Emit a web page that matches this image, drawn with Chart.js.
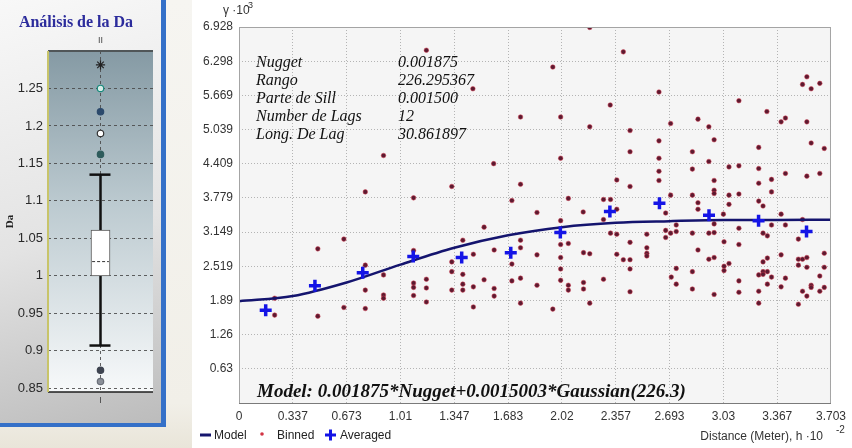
<!DOCTYPE html>
<html lang="es">
<head>
<meta charset="UTF-8">
<title>Análisis de la Da - Semivariograma</title>
<script src="https://cdn.jsdelivr.net/npm/chart.js@4.4.1/dist/chart.umd.min.js"></script>
<style>
  html, body { margin: 0; padding: 0; background: #fff; }
  body { width: 852px; height: 448px; position: relative; overflow: hidden; }
  /* marco del panel izquierdo */
  #leftBg { position: absolute; left: 0; top: 0; width: 192px; height: 448px;
    background: linear-gradient(180deg, #f6f5f1 0%, #f1efe8 90%, #e9e5d9 100%); }
  #leftPanel { position: absolute; left: 0; top: 0; width: 161px; height: 423px;
    background: linear-gradient(165deg, #f8f8f8 0%, #e3e3e3 55%, #bcbcbc 100%);
    border-right: 5px solid #3470c8; border-bottom: 4px solid #3470c8; }
  #boxCanvas { position: absolute; left: 0; top: 0; }
  #vgCanvas { position: absolute; left: 196px; top: 0; }
</style>
</head>
<body>
  <div id="leftBg"></div>
  <div id="leftPanel"></div>
  <canvas id="boxCanvas" width="166" height="423"></canvas>
  <canvas id="vgCanvas" width="656" height="448"></canvas>

<script>
// ---------- datos: diagrama de caja de Da ----------
const daTickLabels = ['0.85', '0.9', '0.95', '1', '1.05', '1.1', '1.15', '1.2', '1.25'];
const daBox = [1.0, 1.061];          // Q1, Q3
const daMedian = 1.019;
const daWhiskers = [0.907, 1.135];   // bigote inferior, superior
const daOutliers = [1.2815, 1.25, 1.219, 1.19, 1.162, 0.874, 0.859];

// ---------- datos: semivariograma ----------
const xTickLabels = ['0', '0.337', '0.673', '1.01', '1.347', '1.683', '2.02', '2.357', '2.693', '3.03', '3.367', '3.703'];
const yTickLabels = ['0', '0.63', '1.26', '1.89', '2.519', '3.149', '3.779', '4.409', '5.039', '5.669', '6.298', '6.928'];

const modelY = [1.875, 1.97, 2.22, 2.55, 2.86, 3.09, 3.24, 3.32, 3.35, 3.37, 3.373, 3.375];

// promedios por lag (cruces azules)
const avgX = [0.167, 0.475, 0.774, 1.09, 1.393, 1.70, 2.01, 2.32, 2.63, 2.94, 3.25, 3.55];
const avgY = [1.71, 2.16, 2.40, 2.70, 2.68, 2.77, 3.14, 3.53, 3.68, 3.46, 3.36, 3.16];

// nube de puntos (binned)
const binX = [
  1.172, 0.904, 0.79, 1.092, 2.194, 2.404, 1.963, 1.463, 2.322, 1.761, 2.012, 2.194, 2.446, 2.446, 1.593,
  2.012, 2.363, 2.446, 1.331, 1.761, 1.707, 2.06, 2.28, 2.324, 2.363, 1.864, 2.153, 3.552, 3.525, 3.633,
  3.579, 2.627, 3.127, 3.302, 2.70, 2.871, 2.939, 3.391, 3.418, 3.552, 2.972, 2.627, 3.579, 3.251, 3.661,
  2.836, 2.627, 2.939, 2.836, 3.065, 3.127, 3.251, 2.627, 3.418, 3.552, 3.633, 2.972, 3.331, 2.627, 3.251,
  2.972, 2.972, 3.331, 2.70, 2.836, 3.065, 3.127, 3.251, 3.278, 2.871, 2.871, 3.065, 2.669, 3.03, 3.391,
  0.223, 0.223, 0.493, 0.493, 0.656, 0.656, 0.79, 0.79, 0.79, 0.904, 0.904, 0.904, 1.092, 1.092, 1.092,
  1.092, 1.172, 1.172, 1.172, 1.331, 1.331, 1.331, 1.40, 1.40, 1.40, 1.40, 1.466, 1.466, 1.466, 1.533,
  1.533, 1.596, 1.596, 1.596, 1.707, 1.707, 1.761, 1.761, 1.761, 1.761, 1.864, 1.864, 1.963, 2.012, 2.012,
  2.012, 2.012, 2.012, 2.06, 2.06, 2.06, 2.155, 2.155, 2.155, 2.194, 2.194, 2.28, 2.28, 2.324, 2.363,
  2.363, 2.404, 2.446, 2.446, 2.446, 2.446,
  2.551, 2.551, 2.551, 2.551, 2.669, 2.669, 2.70, 2.735, 2.735, 2.735, 2.735, 2.704, 2.836, 2.836, 2.836,
  2.871, 2.939, 2.939, 2.972, 2.972, 2.972, 2.972, 3.034, 3.034, 3.034, 3.065, 3.127, 3.127, 3.127, 3.127,
  3.251, 3.251, 3.251, 3.278, 3.305, 3.278, 3.305, 3.278, 3.305, 3.278, 3.331, 3.305, 3.331, 3.418, 3.391,
  3.418, 3.391, 3.525, 3.499, 3.499, 3.525, 3.552, 3.499, 3.552, 3.579, 3.579, 3.525, 3.552, 3.499, 3.661,
  3.661, 3.633, 3.661, 3.633
];
const binY = [
  6.50, 4.56, 3.89, 3.78, 6.92, 6.47, 6.19, 5.79, 5.49, 5.27, 5.27, 5.09, 5.02, 4.63, 4.41,
  4.51, 4.11, 3.99, 3.99, 4.03, 3.73, 3.77, 3.75, 3.75, 3.57, 3.51, 3.52, 6.01, 5.87, 5.89,
  5.79, 5.73, 5.57, 5.37, 5.15, 5.23, 5.09, 5.18, 5.25, 5.18, 4.85, 4.83, 4.79, 4.71, 4.69,
  4.63, 4.51, 4.45, 4.31, 4.35, 4.37, 4.32, 4.27, 4.23, 4.18, 4.23, 4.10, 4.12, 4.10, 4.05,
  3.92, 3.86, 3.89, 3.83, 3.83, 3.83, 3.85, 3.72, 3.63, 3.69, 3.57, 3.66, 3.50, 3.48, 3.48,
  1.93, 1.62, 2.84, 1.60, 3.02, 1.76, 2.54, 2.08, 1.74, 2.36, 1.99, 1.93, 2.81, 2.21, 2.13,
  1.98, 2.28, 2.12, 1.86, 2.60, 2.42, 2.08, 3.00, 2.37, 2.19, 2.08, 2.74, 2.14, 1.77, 3.24,
  2.27, 2.82, 2.11, 1.97, 2.56, 2.25, 3.00, 2.86, 2.30, 1.84, 2.73, 2.17, 1.73, 3.36, 2.92,
  2.68, 2.47, 2.26, 2.94, 2.17, 2.08, 2.77, 2.22, 2.10, 2.75, 1.84, 2.28, 3.38, 3.13, 3.11,
  2.74, 2.64, 2.64, 2.96, 2.47, 2.05,
  3.11, 2.86, 2.76, 2.71, 3.18, 3.05, 3.13, 3.28, 3.16, 2.48, 2.19, 2.32, 3.13, 2.42, 2.10,
  2.82, 3.13, 2.65, 3.30, 3.14, 2.68, 2.00, 2.97, 2.52, 2.44, 2.57, 3.22, 2.92, 2.25, 2.04,
  2.36, 2.06, 1.84, 3.13, 3.08, 2.60, 2.67, 2.42, 2.42, 2.37, 2.32, 2.19, 3.28, 3.28, 2.73,
  2.30, 2.14, 3.38, 3.02, 2.65, 2.65, 2.68, 2.54, 2.50, 2.17, 2.13, 2.06, 1.97, 1.82, 2.76,
  2.50, 2.34, 2.13, 2.06
];

// textos del recuadro
const paramNames = ['Nugget', 'Rango', 'Parte de Sill', 'Number de Lags', 'Long. De Lag'];
const paramValues = ['0.001875', '226.295367', '0.001500', '12', '30.861897'];
const modelText = 'Model: 0.001875*Nugget+0.0015003*Gaussian(226.3)';

// estilos de los valores atipicos (mismo orden que daOutliers)
const outlierStyle = ['star', 'circle', 'circle', 'circle', 'circle', 'circle', 'circle'];
const outlierSize = [4.6, 3.2, 3.2, 3.2, 3.2, 3.2, 3.2];
const outlierFill = ['#222', '#d8ece8', '#2c4a6c', '#ffffff', '#2e5c5c', '#3e4450', '#8a8f98'];
const outlierLine = ['#222', '#188a7c', '#2c4a6c', '#333', '#2e5c5c', '#3e4450', '#6a6f78'];

Chart.defaults.font.family = '"Liberation Sans", Arial, sans-serif';

// ---------- grafico izquierdo ----------
const boxDecor = {
  id: 'boxDecor',
  beforeDraw(chart) {
    const { ctx, chartArea: a } = chart;
    const g = ctx.createLinearGradient(0, a.top, 0, a.bottom);
    g.addColorStop(0, '#859aa4');
    g.addColorStop(0.45, '#bccad0');
    g.addColorStop(1, '#f7f9fa');
    ctx.save();
    ctx.fillStyle = g;
    ctx.fillRect(a.left, a.top, a.right - a.left, a.bottom - a.top);
    ctx.restore();
  },
  afterDraw(chart) {
    const { ctx, chartArea: a } = chart;
    ctx.save();
    // bordes del area
    ctx.strokeStyle = '#505658'; ctx.lineWidth = 2;
    ctx.beginPath(); ctx.moveTo(a.left, a.top); ctx.lineTo(a.right, a.top); ctx.stroke();
    ctx.strokeStyle = '#1e1e1e'; ctx.lineWidth = 1.5;
    ctx.beginPath(); ctx.moveTo(a.left, a.bottom); ctx.lineTo(a.right, a.bottom); ctx.stroke();
    ctx.strokeStyle = '#c8c46a'; ctx.lineWidth = 2;
    ctx.beginPath(); ctx.moveTo(a.left, a.top); ctx.lineTo(a.left, a.bottom); ctx.stroke();
    // titulo
    ctx.fillStyle = '#2c2c9c';
    ctx.font = 'bold 16px "Liberation Serif", "Times New Roman", serif';
    ctx.textAlign = 'center'; ctx.textBaseline = 'middle';
    ctx.fillText('Análisis de la Da', 76, 23);
    ctx.fillStyle = '#444'; ctx.font = '9px "Liberation Sans", Arial, sans-serif';
    ctx.fillText('II', chart.scales.x.getPixelForValue(1), 41);
    ctx.restore();
  }
};

new Chart(document.getElementById('boxCanvas'), {
  type: 'scatter',
  data: {
    datasets: [
      { type: 'bar', data: [{ x: 1, y: daBox }], backgroundColor: '#ffffff', borderColor: '#555',
        borderWidth: 1, borderSkipped: false, barThickness: 19, order: 1 },
      { type: 'line', data: [{ x: 1, y: daWhiskers[0] }, { x: 1, y: daBox[0] }], borderColor: '#111',
        borderWidth: 2.5, pointRadius: 0, order: 2 },
      { type: 'line', data: [{ x: 1, y: daBox[1] }, { x: 1, y: daWhiskers[1] }], borderColor: '#111',
        borderWidth: 2.5, pointRadius: 0, order: 2 },
      { type: 'line', data: [{ x: 0.79, y: daWhiskers[0] }, { x: 1.19, y: daWhiskers[0] }], borderColor: '#111',
        borderWidth: 2.5, pointRadius: 0, order: 2 },
      { type: 'line', data: [{ x: 0.79, y: daWhiskers[1] }, { x: 1.19, y: daWhiskers[1] }], borderColor: '#111',
        borderWidth: 2.5, pointRadius: 0, order: 2 },
      { type: 'line', data: [{ x: 0.84, y: daMedian }, { x: 1.16, y: daMedian }], borderColor: '#333',
        borderWidth: 1, borderDash: [3, 2], pointRadius: 0, order: 0 },
      { data: daOutliers.map(v => ({ x: 1, y: v })), pointStyle: outlierStyle, pointRadius: outlierSize,
        backgroundColor: outlierFill, borderColor: outlierLine, borderWidth: 1.2, order: 0 }
    ]
  },
  options: {
    responsive: false,
    animation: false,
    layout: { padding: { left: 0, top: 51, right: 13, bottom: 11 } },
    plugins: { legend: { display: false }, tooltip: { enabled: false } },
    scales: {
      x: {
        type: 'linear', min: 0, max: 2, offset: false,
        afterBuildTicks: s => { s.ticks = [{ value: 1 }]; },
        afterFit: s => { s.height = 20; },
        ticks: { callback: () => 'I', font: { size: 9 }, color: '#444', padding: 3, maxRotation: 0 },
        grid: { color: 'rgba(70,70,70,0.85)', drawTicks: false, offset: false },
        border: { display: false, dash: [3, 3] }
      },
      y: {
        min: 0.845, max: 1.30,
        afterBuildTicks: s => { s.ticks = daTickLabels.map(t => ({ value: Number(t) })); },
        afterFit: s => { s.width = 48; },
        ticks: { callback: (v, i) => daTickLabels[i], font: { size: 13 }, color: '#2a2a2a', padding: 5 },
        grid: { color: 'rgba(70,70,70,0.85)', drawTicks: false },
        border: { display: false, dash: [3, 3] },
        title: { display: true, text: 'Da', color: '#222', padding: { top: 4, bottom: 0 },
          font: { family: '"Liberation Serif", serif', size: 11, weight: 'bold' } }
      }
    }
  },
  plugins: [boxDecor]
});

// ---------- grafico derecho ----------
const xTicks = xTickLabels.map(Number);
const yTicks = yTickLabels.map(Number);

const vgDecor = {
  id: 'vgDecor',
  beforeDraw(chart) {
    const { ctx, chartArea: a } = chart;
    ctx.save();
    ctx.fillStyle = '#f5f5f5';
    ctx.fillRect(a.left, a.top, a.right - a.left, a.bottom - a.top);
    ctx.restore();
  },
  afterDraw(chart) {
    const { ctx, chartArea: a } = chart;
    ctx.save();
    ctx.strokeStyle = '#a4a4a4'; ctx.lineWidth = 1;
    ctx.strokeRect(a.left + 0.5, a.top + 0.5, a.right - a.left - 1, a.bottom - a.top);
    ctx.strokeStyle = '#7a7a7a';
    ctx.beginPath(); ctx.moveTo(a.left, a.bottom + 0.5); ctx.lineTo(a.right, a.bottom + 0.5); ctx.stroke();

    // recuadro de parametros
    ctx.fillStyle = '#111';
    ctx.font = 'italic 16px "Liberation Serif", "Times New Roman", serif';
    ctx.textAlign = 'left'; ctx.textBaseline = 'alphabetic';
    paramNames.forEach((t, i) => {
      ctx.fillText(t, 60, 67 + i * 18);
      ctx.fillText(paramValues[i], 202, 67 + i * 18);
    });
    ctx.font = 'italic bold 19px "Liberation Serif", "Times New Roman", serif';
    ctx.fillText(modelText, 61, 397, 448);

    // etiqueta del eje y
    ctx.fillStyle = '#333';
    ctx.font = '12px "Liberation Sans", Arial, sans-serif';
    ctx.fillText('\u03b3 \u00b710', 27, 14);
    ctx.font = '9px "Liberation Sans", Arial, sans-serif';
    ctx.fillText('-3', 49, 8);

    // titulo del eje x
    ctx.font = '12px "Liberation Sans", Arial, sans-serif';
    ctx.textAlign = 'right';
    ctx.fillText('Distance (Meter), h \u00b710', 627, 440);
    ctx.textAlign = 'left';
    ctx.font = '10px "Liberation Sans", Arial, sans-serif';
    ctx.fillText('-2', 640, 433);

    // leyenda
    const ly = 435;
    ctx.strokeStyle = '#16166e'; ctx.lineWidth = 3;
    ctx.beginPath(); ctx.moveTo(4, ly); ctx.lineTo(15, ly); ctx.stroke();
    ctx.fillStyle = '#d23444';
    ctx.beginPath(); ctx.arc(66, ly - 1, 1.8, 0, Math.PI * 2); ctx.fill();
    ctx.strokeStyle = '#1414e6'; ctx.lineWidth = 3;
    ctx.beginPath(); ctx.moveTo(129, ly); ctx.lineTo(140, ly); ctx.moveTo(134.5, ly - 5.5); ctx.lineTo(134.5, ly + 5.5); ctx.stroke();
    ctx.fillStyle = '#222';
    ctx.font = '12px "Liberation Sans", Arial, sans-serif';
    ctx.textBaseline = 'middle';
    ctx.fillText('Model', 18, ly + 1);
    ctx.fillText('Binned', 81, ly + 1);
    ctx.fillText('Averaged', 144, ly + 1);
    ctx.restore();
  }
};

new Chart(document.getElementById('vgCanvas'), {
  type: 'scatter',
  data: {
    datasets: [
      { label: 'Model', type: 'line', data: xTicks.map((x, i) => ({ x: x, y: modelY[i] })),
        borderColor: '#14146e', borderWidth: 2.5, pointRadius: 0, cubicInterpolationMode: 'monotone', order: 1 },
      { label: 'Binned', data: binX.map((x, i) => ({ x: x, y: binY[i] })), pointStyle: 'circle',
        pointRadius: 2.3, backgroundColor: '#5c1a30', borderColor: 'rgba(214,60,80,0.5)', borderWidth: 1, order: 2 },
      { label: 'Averaged', data: avgX.map((x, i) => ({ x: x, y: avgY[i] })), pointStyle: 'cross',
        pointRadius: 6, borderColor: '#1414e6', borderWidth: 3.5, order: 0 }
    ]
  },
  options: {
    responsive: false,
    animation: false,
    layout: { padding: { left: 0, top: 27, right: 15, bottom: 23 } },
    plugins: { legend: { display: false }, tooltip: { enabled: false } },
    scales: {
      x: {
        type: 'linear', min: 0, max: 3.703,
        afterBuildTicks: s => { s.ticks = xTicks.map(v => ({ value: v })); },
        afterFit: s => { s.height = 22; },
        ticks: { callback: (v, i) => xTickLabels[i], font: { size: 12 }, color: '#333', padding: 6,
          maxRotation: 0, autoSkip: false },
        grid: { color: '#b4b4b4', drawTicks: false },
        border: { display: false, dash: [1, 2] }
      },
      y: {
        min: 0, max: 6.928,
        afterBuildTicks: s => { s.ticks = yTicks.map(v => ({ value: v })); },
        afterFit: s => { s.width = 43; },
        ticks: { callback: (v, i) => (i === 0 ? '' : yTickLabels[i]), font: { size: 12 }, color: '#333',
          padding: 6, autoSkip: false },
        grid: { color: '#b4b4b4', drawTicks: false },
        border: { display: false, dash: [1, 2] }
      }
    }
  },
  plugins: [vgDecor]
});
</script>
</body>
</html>
